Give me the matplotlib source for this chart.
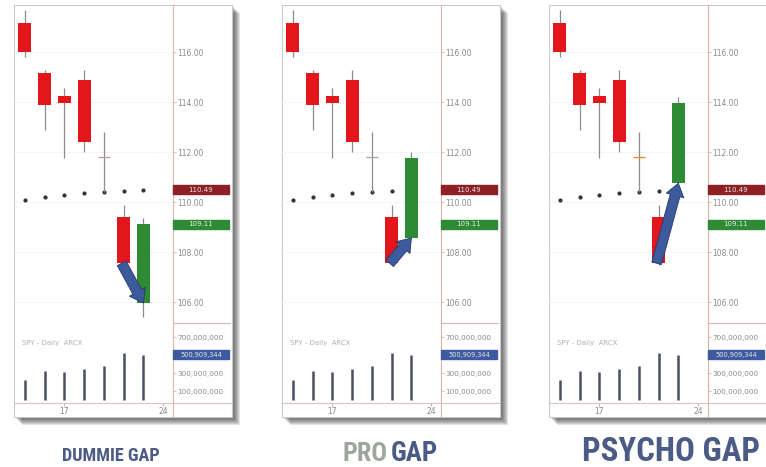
import matplotlib.pyplot as plt
from matplotlib.patches import Rectangle
from matplotlib import font_manager

# figure size in pixels
W, H = 766, 467

# candles shared by all three panels
days = ['13', '14', '17', '18', '19', '20', '21']
opens = [117.17, 115.17, 114.24, 114.88, 111.82, 109.41]
highs = [117.70, 115.30, 114.56, 115.28, 112.81, 109.88]
lows = [115.80, 112.90, 111.76, 112.00, 110.41, 107.50]
closes = [116.00, 113.88, 113.97, 112.41, 111.80, 107.55]

# last candle (open, high, low, close) for each gap type
last_dummie = [105.96, 109.36, 105.41, 109.11]
last_pro = [108.56, 112.01, 108.56, 111.76]
last_psycho = [110.75, 114.21, 110.75, 113.95]

avg_dots = [110.10, 110.21, 110.28, 110.37, 110.41, 110.44, 110.48]
volumes = [222e6, 322e6, 311e6, 344e6, 378e6, 525e6, 500909344]

price_ticks = [106, 108, 110, 112, 114, 116]
vol_ticks = [100e6, 300e6, 700e6]
x_ticks = [2, 7]
x_tick_labels = ['17', '24']
avg_label = 110.49
last_label = 109.11
vol_label = 500909344

RED = '#e3161c'
GREEN = '#2f8a36'
ARROW = '#3d5b9c'
NAVY = '#4b5b85'
AXIS_LINE = '#e2b3a6'
TXT = '#8a8a8a'

# pixel layout
TOP, SPLIT, VBOT, FBOT = 5, 323, 403, 417
PLOT_W, FRAME_W = 159, 218
panel_left = [14, 282, 549]

# pick a narrow font for the captions if one is installed
installed = {f.name for f in font_manager.fontManager.ttflist}
cap_family = 'DejaVu Sans'
for name in ['Liberation Sans Narrow', 'DejaVu Sans Condensed', 'Roboto Condensed',
             'Open Sans Condensed', 'Liberation Sans', 'Roboto']:
    if name in installed:
        cap_family = name
        break


def px_axes(fig, x, y, w, h):
    return fig.add_axes([x / W, 1 - (y + h) / H, w / W, h / H])


fig = plt.figure(figsize=(W / 100, H / 100), dpi=100)

bg = fig.add_axes([0, 0, 1, 1])
bg.set_xlim(0, W)
bg.set_ylim(H, 0)
bg.axis('off')
bg.set_zorder(0)

for L in panel_left:
    # soft drop shadow + frame
    for k in range(1, 9):
        bg.add_patch(Rectangle((L + k, TOP + k), FRAME_W, FBOT - TOP,
                               color='#2a2a2a', alpha=0.13, lw=0))
    bg.add_patch(Rectangle((L, TOP), FRAME_W, FBOT - TOP, facecolor='white',
                           edgecolor='#c9c9c9', lw=0.8))
    bg.plot([L + PLOT_W, L + PLOT_W], [TOP, FBOT], color=AXIS_LINE, lw=0.8)
    bg.plot([L + PLOT_W, L + FRAME_W - 2], [SPLIT, SPLIT], color=AXIS_LINE, lw=0.8)
    bg.plot([L, L + FRAME_W], [VBOT, VBOT], color='#d8c4be', lw=0.8)

lasts = [last_dummie, last_pro, last_psycho]
doji_colors = ['#b8a0a0', '#b8a0a0', '#e8883a']

for L, last, doji_c in zip(panel_left, lasts, doji_colors):
    o_all = opens + [last[0]]
    h_all = highs + [last[1]]
    l_all = lows + [last[2]]
    c_all = closes + [last[3]]
    idx = list(range(len(o_all)))

    ax = px_axes(fig, L, TOP, PLOT_W, SPLIT - TOP)
    ax.set_zorder(1)
    ax.patch.set_alpha(0)
    ax.set_xlim(-0.55, 7.5)
    ax.set_ylim(105.16, 117.88)
    for s in ax.spines.values():
        s.set_visible(False)
    ax.set_xticks([])
    ax.yaxis.tick_right()
    ax.set_yticks(price_ticks)
    ax.set_yticklabels([f'{t:.2f}' for t in price_ticks])
    ax.tick_params(axis='y', length=2, width=0.6, color=AXIS_LINE, pad=1,
                   labelsize=5.5, labelcolor=TXT)
    for t in price_ticks:
        ax.axhline(t, color='#f3f3f3', lw=0.6, zorder=0)

    ax.plot(idx, avg_dots, 'o', ms=2.0, color='#333333', zorder=1)

    for i in idx:
        o, hi, lo, c = o_all[i], h_all[i], l_all[i], c_all[i]
        ax.vlines(i, lo, hi, color='#8c8c8c', lw=0.9, zorder=2)
        if abs(c - o) < 0.05:
            ax.hlines(o, i - 0.3, i + 0.3, color=doji_c, lw=1.0, zorder=3)
        else:
            ax.bar(i, abs(c - o), bottom=min(o, c), width=0.66,
                   color=GREEN if c > o else RED, zorder=3)

    # arrow from the red close to the gap open
    ax.annotate('', xy=(6, last[0]), xytext=(4.9, closes[-1]),
                arrowprops=dict(arrowstyle='simple,head_length=0.7,head_width=1.0,tail_width=0.55',
                                fc=ARROW, ec='#26386a', lw=0.6, mutation_scale=13,
                                shrinkA=0, shrinkB=0),
                zorder=5)

    yt = ax.get_yaxis_transform()
    box_h = 0.36
    for val, col in [(avg_label, '#8e1f24'), (last_label, '#2f8a36')]:
        ax.add_patch(Rectangle((1.0, val - box_h / 2), 56 / PLOT_W, box_h, transform=yt,
                               color=col, clip_on=False, zorder=4))
        ax.text(1.0 + 28 / PLOT_W, val, f'{val:.2f}', transform=yt, ha='center',
                va='center', fontsize=5, color='#e8e8e8', clip_on=False, zorder=5)

    # volume pane
    av = px_axes(fig, L, SPLIT, PLOT_W, VBOT - SPLIT)
    av.set_zorder(1)
    av.patch.set_alpha(0)
    av.set_xlim(-0.55, 7.5)
    av.set_ylim(-33.3e6, 855.6e6)
    for s in av.spines.values():
        s.set_visible(False)
    av.vlines(idx, 0, volumes, color='#4a5062', lw=1.8)
    av.yaxis.tick_right()
    av.set_yticks(vol_ticks)
    av.set_yticklabels([f'{int(v):,}' for v in vol_ticks])
    av.tick_params(axis='y', length=2, width=0.6, color=AXIS_LINE, pad=1,
                   labelsize=5.2, labelcolor=TXT)
    av.set_xticks(x_ticks)
    av.set_xticklabels(x_tick_labels)
    av.tick_params(axis='x', length=2, width=0.6, color='#aaaaaa', pad=1,
                   labelsize=5.5, labelcolor=TXT)
    vt = av.get_yaxis_transform()
    vbox_h = 9 / 80 * (855.6e6 + 33.3e6)
    av.add_patch(Rectangle((1.0, vol_label - vbox_h / 2), 56 / PLOT_W, vbox_h,
                           transform=vt, color='#3d5a9e', clip_on=False))
    av.text(1.0 + 28 / PLOT_W, vol_label, f'{vol_label:,}', transform=vt,
            ha='center', va='center', fontsize=4.8, color='#e8e8e8', clip_on=False)
    av.text(0.05, 0.75, 'SPY - Daily  ARCX', transform=av.transAxes,
            fontsize=5, color='#b0b0b0', va='center')

# captions: (text, x, align, target width px, colour)
captions = [
    ('DUMMIE GAP', 111, 'center', 98, NAVY),
    ('PRO', 388, 'right', 45, '#9da69c'),
    ('GAP', 391, 'left', 47, NAVY),
    ('PSYCHO GAP', 671, 'center', 178, NAVY),
]
renderer = fig.canvas.get_renderer()
for txt, x, ha, target, col in captions:
    t = bg.text(x, 461, txt, ha=ha, va='baseline', fontsize=20,
                fontweight='bold', color=col, family=cap_family)
    w = t.get_window_extent(renderer).width
    t.set_fontsize(20 * target / w)

fig.savefig('out.png', dpi=100)
